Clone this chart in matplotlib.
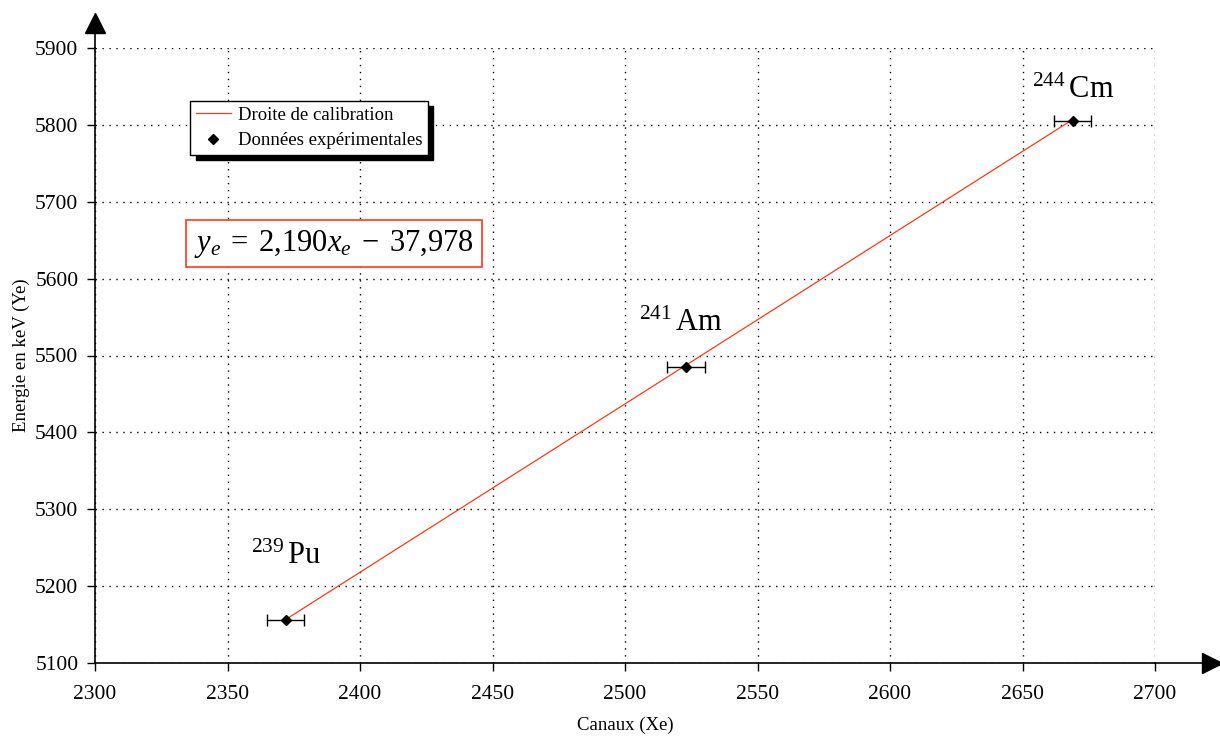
import numpy as np
import matplotlib
matplotlib.use('Agg')
import matplotlib.pyplot as plt

plt.rcParams['font.family'] = ['Liberation Serif', 'DejaVu Serif']
plt.rcParams['mathtext.fontset'] = 'custom'
plt.rcParams['mathtext.rm'] = 'Liberation Serif'
plt.rcParams['mathtext.it'] = 'Liberation Serif:italic'

# experimental points
canaux = [2372, 2523, 2669]
energie = [5156, 5485, 5805]
err_x = [7, 7, 7]
isotopes = ['$^{239}\\,$Pu', '$^{241}\\,$Am', '$^{244}\\,$Cm']
label_offsets = [(-25, 40), (-34, 26), (-29.5, 16.5)]

# calibration fit
pente = 2.190
ordonnee = -37.978

xticks = [2300, 2350, 2400, 2450, 2500, 2550, 2600, 2650, 2700]
yticks = [5100, 5200, 5300, 5400, 5500, 5600, 5700, 5800, 5900]

fig = plt.figure(figsize=(12.2, 7.36), dpi=100)
ax = fig.add_axes([95 / 1220, 73 / 736, 1060 / 1220, 615 / 736])

xfit = np.array([canaux[0], canaux[-1]])
ax.plot(xfit, pente * xfit + ordonnee, color='#ff3a1a', lw=0.9,
        label='Droite de calibration', zorder=3)
ax.errorbar(canaux, energie, xerr=err_x, fmt='none', ecolor='black',
            elinewidth=1, capsize=4, capthick=1, zorder=4)
ax.plot(canaux, energie, 'D', color='black', ms=5, ls='none',
        label='Données expérimentales', zorder=5)

for x, y, lab, off in zip(canaux, energie, isotopes, label_offsets):
    ax.annotate(lab, xy=(x, y), xytext=off, textcoords='offset points',
                fontsize=22, ha='left', va='baseline')

ax.set_xlim(2300, 2700)
ax.set_ylim(5100, 5900)
ax.set_xticks(xticks)
ax.set_yticks(yticks)
ax.tick_params(labelsize=15.5, direction='out', length=6, width=1, color='black')
ax.tick_params(axis='x', pad=10)
ax.tick_params(axis='y', pad=6)
ax.grid(True, color='black', linestyle=(0, (1, 4)), lw=1)
ax.set_axisbelow(True)

for s in ['top', 'right']:
    ax.spines[s].set_visible(False)
for s in ['left', 'bottom']:
    ax.spines[s].set_linewidth(1.2)

# axis arrows
ax.plot([0, 0], [1, 1.03], color='black', lw=1.2, transform=ax.transAxes, clip_on=False)
ax.plot([0], [1.041], marker='^', color='black', ms=15, transform=ax.transAxes, clip_on=False)
ax.plot([1, 1.045], [0, 0], color='black', lw=1.2, transform=ax.transAxes, clip_on=False)
ax.plot([1.054], [0], marker='>', color='black', ms=14, transform=ax.transAxes, clip_on=False)

ax.set_xlabel('Canaux (Xe)', fontsize=13.5)
ax.xaxis.set_label_coords(0.5, -0.087)
ax.set_ylabel('Energie en keV (Ye)', fontsize=13.5)
ax.yaxis.set_label_coords(-0.061, 0.5)

leg = ax.legend(loc='upper left', bbox_to_anchor=(0.0896, 0.914), borderaxespad=0,
                fontsize=13.5, fancybox=False, edgecolor='black', framealpha=1,
                shadow={'color': 'black', 'alpha': 1, 'ox': 4, 'oy': -4},
                handlelength=1.9, handletextpad=0.35, borderpad=0.3, labelspacing=0.45)
leg.get_frame().set_linewidth(1)

ax.text(0.0935, 0.682, '$y_e\\;=\\;2{,}190x_e\\;-\\;37{,}978$', transform=ax.transAxes,
        fontsize=22, ha='left', va='center',
        bbox=dict(boxstyle='square,pad=0.25', fc='white', ec='#ff3a1a', lw=1.2))

fig.savefig('out.png', dpi=100)
